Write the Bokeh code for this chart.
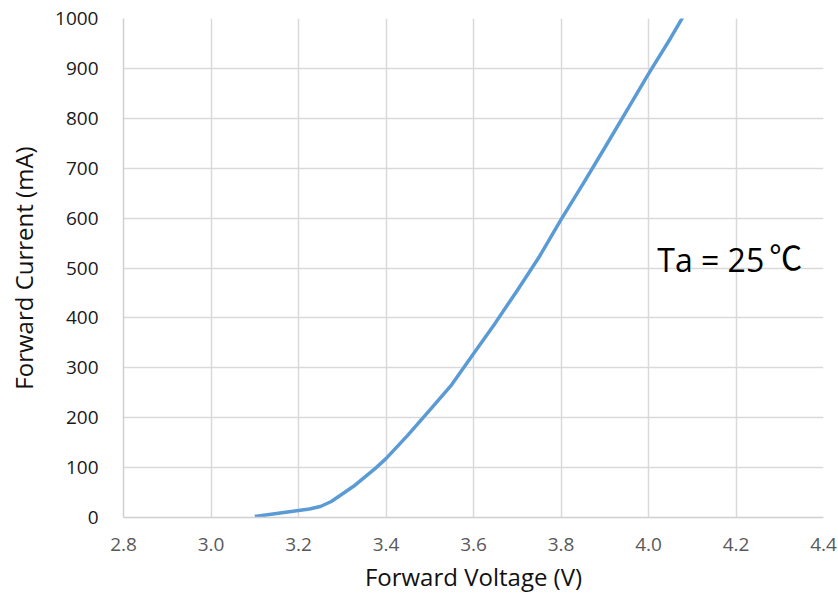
from bokeh.plotting import figure
from bokeh.models import FixedTicker, NumeralTickFormatter, Label
from bokeh.embed import file_html
from bokeh.resources import INLINE

voltage = [3.10, 3.125, 3.15, 3.175, 3.20, 3.225, 3.25, 3.275, 3.30, 3.325, 3.35,
           3.375, 3.40, 3.45, 3.50, 3.55, 3.60, 3.65, 3.70, 3.75, 3.80, 3.85,
           3.90, 3.95, 4.00, 4.05, 4.08]
current = [2, 5, 8, 11, 14, 17, 22, 32, 47, 62, 80,
           98, 118, 165, 215, 266, 328, 390, 455, 522, 597, 668,
           741, 815, 889, 960, 1005]
x_ticks = [2.8, 3.0, 3.2, 3.4, 3.6, 3.8, 4.0, 4.2, 4.4]
y_ticks = [0, 100, 200, 300, 400, 500, 600, 700, 800, 900, 1000]
annotation = "Ta = 25"
annotation_unit = "℃"

FONT = "Open Sans"

p = figure(width=838, height=597, x_range=(2.8, 4.4), y_range=(0, 1000),
           output_backend="svg", toolbar_location=None,
           min_border_left=123, min_border_right=15, min_border_top=18,
           min_border_bottom=80)
p.outline_line_color = None
p.background_fill_color = "white"
p.border_fill_color = "white"

p.line(voltage, current, line_color="#5B9BD5", line_width=3.5)

p.xaxis.ticker = FixedTicker(ticks=x_ticks)
p.yaxis.ticker = FixedTicker(ticks=y_ticks)
p.xaxis.formatter = NumeralTickFormatter(format="0.0")
p.xgrid.ticker = FixedTicker(ticks=x_ticks)
p.ygrid.ticker = FixedTicker(ticks=y_ticks)
for g in (p.xgrid, p.ygrid):
    g.grid_line_color = "#d9d9d9"
    g.grid_line_width = 1.5

for ax in (p.xaxis, p.yaxis):
    ax.axis_line_color = "#d0d0d0"
    ax.axis_line_width = 1.5
    ax.major_tick_line_color = None
    ax.minor_tick_line_color = None
    ax.major_tick_out = 0
    ax.major_tick_in = 0
    ax.major_label_text_font = FONT
    ax.major_label_text_font_size = "19px"
    ax.axis_label_text_font = FONT
    ax.axis_label_text_font_size = "24px"
    ax.axis_label_text_font_style = "normal"
    ax.axis_label_text_color = "#111111"

p.yaxis.major_label_text_color = "#1a1a1a"
p.xaxis.major_label_text_color = "#595959"
p.yaxis.major_label_standoff = 25
p.xaxis.major_label_standoff = 20
p.yaxis.axis_label = "Forward Current (mA)"
p.xaxis.axis_label = "Forward Voltage (V)"
p.yaxis.axis_label_standoff = 12
p.xaxis.axis_label_standoff = 6

p.add_layout(Label(x=4.02, y=517, text=annotation, text_font=FONT,
                   text_font_size="32px", text_color="#000000",
                   text_baseline="alphabetic", text_align="left"))
p.add_layout(Label(x=4.02, y=517, x_offset=112, y_offset=4, text=annotation_unit,
                   text_font="Noto Sans CJK JP",
                   text_font_size="33px", text_color="#000000",
                   text_baseline="alphabetic", text_align="left"))

open("out.html", "w").write(file_html(p, INLINE))
